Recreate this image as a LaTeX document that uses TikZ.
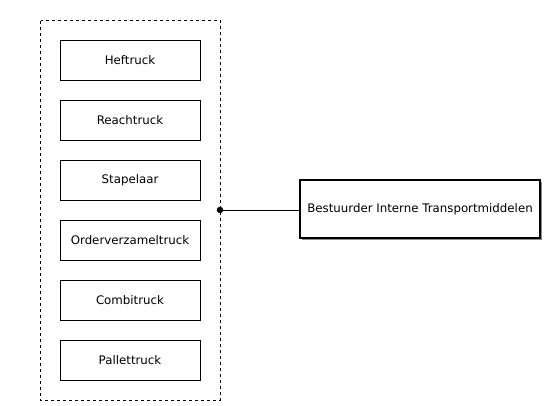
\documentclass[tikz,border=0pt]{standalone}
\usepackage{fontspec}
\setmainfont{DejaVu Sans}
\usetikzlibrary{shadows}
\begin{document}
\begin{tikzpicture}[x=1pt,y=-1pt,
  truckbox/.style={draw,minimum width=140pt,minimum height=40pt,inner sep=0pt,font=\fontsize{11.8}{14}\selectfont},
  rolebox/.style={draw,line width=1.2pt,fill=white,minimum width=240pt,minimum height=58pt,inner sep=0pt,font=\fontsize{11.8}{14}\selectfont,
    drop shadow={shadow xshift=1.5pt,shadow yshift=-1.5pt,fill=black!45,opacity=1}}]
 \useasboundingbox (0,0) rectangle (548,405);
 \draw[dashed] (40.5,20.5) rectangle (220,400);
 \foreach \name/\txt [count=\i] in {heftruck/Heftruck,reachtruck/Reachtruck,stapelaar/Stapelaar,orderpick/Orderverzameltruck,combitruck/Combitruck,pallettruck/Pallettruck}
 \node[truckbox] (\name) at (130,60*\i) {\txt};
 \node[rolebox] (bestuurder) at (420,209) {Bestuurder Interne Transportmiddelen};
 \coordinate (groep) at (220,210);
 \filldraw (groep) circle (3pt);
 \draw (groep) -- (bestuurder.west |- groep);
\end{tikzpicture}
\end{document}
